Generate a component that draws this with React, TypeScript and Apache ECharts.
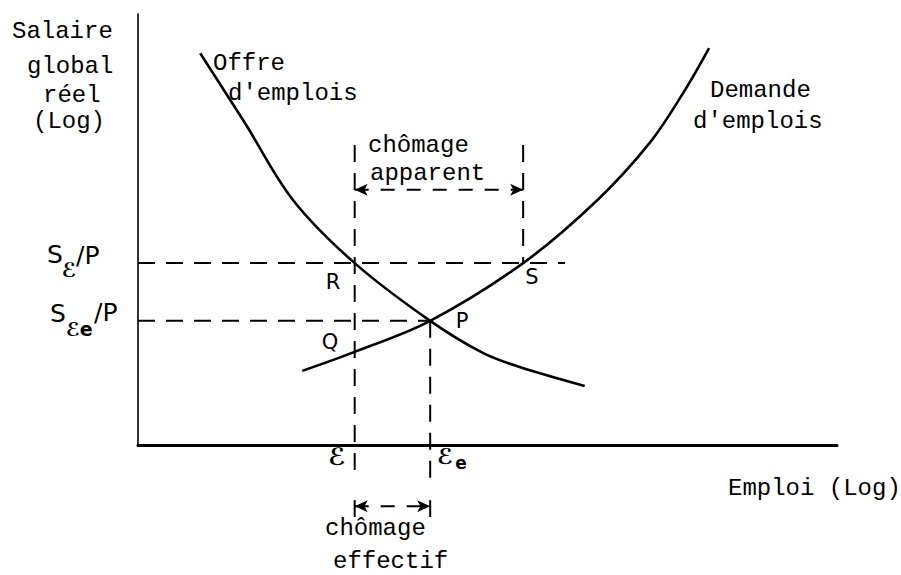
import React, { useEffect, useRef } from "react";
import * as echarts from "echarts";

// Courbes (coordonnées en unités log arbitraires, axes 0..100)
const offreX = [8.9, 15.3, 22.2, 31.0, 41.8, 49.4, 54.6, 63.9];
const offreY = [90.9, 74.7, 56.8, 42.2, 28.8, 21.3, 18.1, 13.7];
const demandeX = [23.5, 31.0, 41.8, 55.1, 65.7, 73.2, 78.0, 81.7];
const demandeY = [17.2, 21.6, 28.8, 42.2, 56.8, 70.1, 81.7, 92.1];

// Niveaux remarquables
const emploiE = 31.0; // ℰ
const emploiEe = 41.8; // ℰe
const emploiS = 55.1; // point S
const salaireG = 42.2; // SG/P
const salaireGe = 28.8; // SGe/P
const finHorizG = 61.1;
const hautVerticales = 69.6;
const basVerticales = -7.7;
const niveauFlecheHaut = 59.2;
const niveauFlecheBas = -14.2;
const barreBas = [-12.8, -16.7];

const MONO = '"Liberation Mono", "Courier New", monospace';
const SANS = '"DejaVu Sans", sans-serif';

function zip(xs: number[], ys: number[]) {
  return xs.map((x, i) => [x, ys[i]]);
}

function seg(a: number[], b: number[], dashed = true, width = 2) {
  return {
    type: "line",
    data: [a, b],
    showSymbol: false,
    silent: true,
    clip: false,
    lineStyle: { color: "#000", width, type: dashed ? [17, 11] : "solid" },
  };
}

function arrowSeg(x1: number, x2: number, y: number) {
  return {
    type: "line",
    data: [
      { value: [x1, y], symbol: "arrow", symbolRotate: 90 },
      { value: [x2, y], symbol: "arrow", symbolRotate: -90 },
    ],
    symbolSize: [9, 13],
    showSymbol: true,
    showAllSymbol: true,
    silent: true,
    clip: false,
    itemStyle: { color: "#000" },
    lineStyle: { color: "#000", width: 2, type: [14, 12] },
  };
}

function txt(
  text: string,
  x: number,
  y: number,
  size: number,
  family: string,
  align = "left",
  weight = "normal"
) {
  return {
    type: "text",
    x,
    y,
    silent: true,
    style: {
      text,
      fontSize: size,
      fontFamily: family,
      fontWeight: weight,
      fill: "#000",
      align,
      verticalAlign: "middle",
    },
  };
}

export default function App() {
  const ref = useRef<HTMLDivElement>(null);
  useEffect(() => {
    if (!ref.current) return;
    const chart = echarts.init(ref.current, undefined, { renderer: "svg" });
    const axisCommon = {
      type: "value",
      min: 0,
      max: 100,
      axisTick: { show: false },
      axisLabel: { show: false },
      splitLine: { show: false },
    };
    chart.setOption({
      animation: false,
      backgroundColor: "#fff",
      grid: { left: 138, right: 64, top: 14, bottom: 130 },
      xAxis: { ...axisCommon, axisLine: { show: true, onZero: false, lineStyle: { color: "#000", width: 3 } } },
      yAxis: { ...axisCommon, axisLine: { show: true, onZero: false, lineStyle: { color: "#000", width: 1.6 } } },
      series: [
        {
          name: "Offre d'emplois",
          type: "line",
          data: zip(offreX, offreY),
          smooth: 0.35,
          showSymbol: false,
          silent: true,
          lineStyle: { color: "#000", width: 2.6 },
        },
        {
          name: "Demande d'emplois",
          type: "line",
          data: zip(demandeX, demandeY),
          smooth: 0.35,
          showSymbol: false,
          silent: true,
          lineStyle: { color: "#000", width: 2.6 },
        },
        seg([0, salaireG], [finHorizG, salaireG]),
        seg([0, salaireGe], [emploiEe, salaireGe]),
        seg([emploiE, hautVerticales], [emploiE, basVerticales]),
        seg([emploiEe, salaireGe], [emploiEe, basVerticales]),
        seg([emploiS, hautVerticales], [emploiS, salaireG]),
        seg([emploiE, barreBas[0]], [emploiE, barreBas[1]], false, 2),
        seg([emploiEe, barreBas[0]], [emploiEe, barreBas[1]], false, 2),
        arrowSeg(emploiE, emploiS, niveauFlecheHaut),
        arrowSeg(emploiE, emploiEe, niveauFlecheBas),
      ],
      graphic: [
        txt("Salaire", 12, 31, 24, MONO),
        txt("global", 27, 66, 24, MONO),
        txt("réel", 43, 95, 24, MONO),
        txt("(Log)", 33, 121, 24, MONO),
        txt("Offre", 213, 63, 24, MONO),
        txt("d'emplois", 228, 93, 24, MONO),
        txt("Demande", 710, 90, 24, MONO),
        txt("d'emplois", 693, 121, 24, MONO),
        txt("chômage", 368, 145, 24, MONO),
        txt("apparent", 370, 173, 24, MONO),
        txt("Emploi (Log)", 728, 488, 24, MONO),
        txt("chômage", 325, 528, 24, MONO),
        txt("effectif", 333, 561, 24, MONO),
        txt("R", 333, 282, 21, SANS, "center"),
        txt("Q", 330, 342, 21, SANS, "center"),
        txt("P", 462, 321, 21, SANS, "center"),
        txt("S", 532, 277, 21, SANS, "center"),
        txt("S", 55, 254, 25, SANS, "center"),
        txt("ℰ", 69, 270, 20, SANS, "center", "bold"),
        txt("/P", 76, 255, 25, SANS),
        txt("S", 58, 313, 25, SANS, "center"),
        txt("ℰe", 66, 329, 19, SANS, "left", "bold"),
        txt("/P", 94, 312, 25, SANS),
        txt("ℰ", 337, 457, 24, SANS, "center", "bold"),
        txt("ℰ", 445, 456, 22, SANS, "center", "bold"),
        txt("e", 461, 463, 17, SANS, "center", "bold"),
      ],
    });
    return () => chart.dispose();
  }, []);
  return (
    <div
      ref={ref}
      style={{ position: "fixed", left: 0, top: 0, width: 901, height: 575, background: "#fff" }}
    />
  );
}
